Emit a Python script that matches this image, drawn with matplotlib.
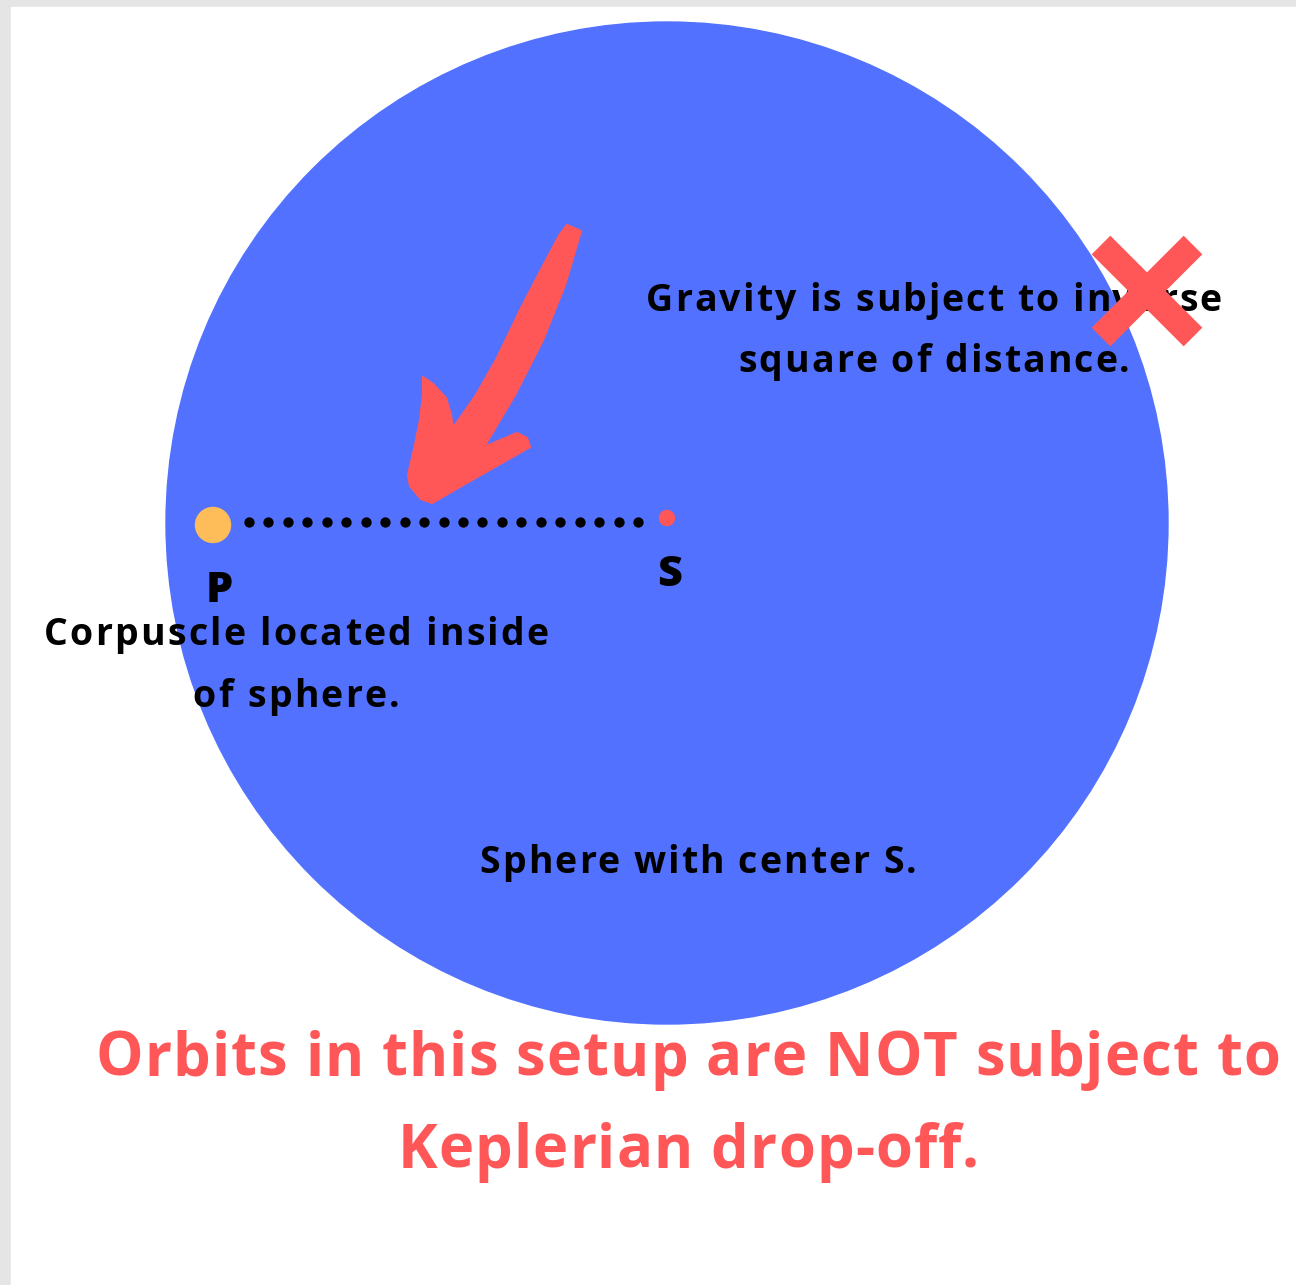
import numpy as np
import matplotlib
matplotlib.use('Agg')
import matplotlib.pyplot as plt
from matplotlib.patches import Circle, Polygon, Rectangle
from matplotlib.font_manager import FontProperties, findfont, get_font

# canvas in pixel units
W, H = 1296, 1285

# sphere
sphere_center = (667, 523)
sphere_radius = 501

# corpuscle P, centre S and the dotted line between them
P_xy = (213, 525)
S_xy = (667, 518)
n_dots = 21
dot_x0, dot_x1, dot_y = 249, 638, 522

# hand-drawn arrow (outline)
arrow_x = [567, 581, 565, 543, 515, 484, 517, 527, 530, 472, 432, 421, 410, 408,
           415, 420, 423, 423, 433, 446, 451, 453, 476, 497, 521, 545, 560]
arrow_y = [225, 231, 285, 340, 395, 447, 433, 438, 447, 480, 503, 499, 486, 475,
           445, 420, 395, 377, 384, 398, 415, 428, 395, 358, 308, 262, 234]

# cross mark
cross_c = (1147, 291)
cross_half = 46

# text blocks: lines, centre x, baselines
corpuscle_lines = ["Corpuscle located inside", "of sphere."]
corpuscle_x, corpuscle_base = 296, [645, 707]
gravity_lines = ["Gravity is subject to inverse", "square of distance."]
gravity_x, gravity_base = 934, [311, 372]
sphere_lines = ["Sphere with center S."]
sphere_x, sphere_base = 698, [873]
orbits_lines = ["Orbits in this setup are NOT subject to", "Keplerian drop-off."]
orbits_x, orbits_base = 688, [1076, 1168]

blue = '#5271FF'
red = '#FF5757'
orange = '#FFBD59'

fig = plt.figure(figsize=(W / 100, H / 100), dpi=100, facecolor='#E5E5E5')
ax = fig.add_axes([0, 0, 1, 1])
ax.set_xlim(0, W)
ax.set_ylim(H, 0)
ax.axis('off')


def spaced(lines, xc, bases, size, track, color='black', weight='bold'):
    # draw centred lines with extra letter spacing (px), char by char
    prop = FontProperties(family='Open Sans', weight=weight, size=size)
    font = get_font(findfont(prop))
    font.set_size(size, 100)
    for line, yb in zip(lines, bases):
        adv = []
        for ch in line:
            g = font.load_char(ord(ch))
            adv.append(g.linearHoriAdvance / 65536)
        total = sum(adv) + track * (len(line) - 1)
        x = xc - total / 2
        for ch, a in zip(line, adv):
            ax.text(x, yb, ch, fontproperties=prop, color=color,
                    ha='left', va='baseline', zorder=5)
            x += a + track


ax.add_patch(Rectangle((11, 7), W, H, color='white', zorder=0))
ax.add_patch(Circle(sphere_center, sphere_radius, color=blue, zorder=1))

ax.add_patch(Circle(P_xy, 17.5, color=orange, zorder=3))
ax.add_patch(Circle(S_xy, 7.5, color=red, zorder=3))
dx = np.linspace(dot_x0, dot_x1, n_dots)
ax.scatter(dx, np.full(n_dots, dot_y), s=55, color='black', zorder=3, linewidths=0)

ax.add_patch(Polygon(np.column_stack([arrow_x, arrow_y]), closed=True,
                     facecolor=red, edgecolor=red, lw=1.5, joinstyle='round', zorder=4))

spaced(['P'], 219, [602], 31, 0, weight='heavy')
spaced(['S'], 669, [586], 31, 0, weight='heavy')

spaced(corpuscle_lines, corpuscle_x, corpuscle_base, 27, 2.2)
spaced(gravity_lines, gravity_x, gravity_base, 27, 2.0)
spaced(sphere_lines, sphere_x, sphere_base, 27, 2.0)
spaced(orbits_lines, orbits_x, orbits_base, 43, 1.1, color=red)

cx, cy = cross_c
ax.plot([cx - cross_half, cx + cross_half], [cy - cross_half, cy + cross_half],
        color=red, lw=19, solid_capstyle='butt', zorder=6)
ax.plot([cx - cross_half, cx + cross_half], [cy + cross_half, cy - cross_half],
        color=red, lw=19, solid_capstyle='butt', zorder=6)

fig.savefig('out.png', dpi=100, facecolor=fig.get_facecolor())
